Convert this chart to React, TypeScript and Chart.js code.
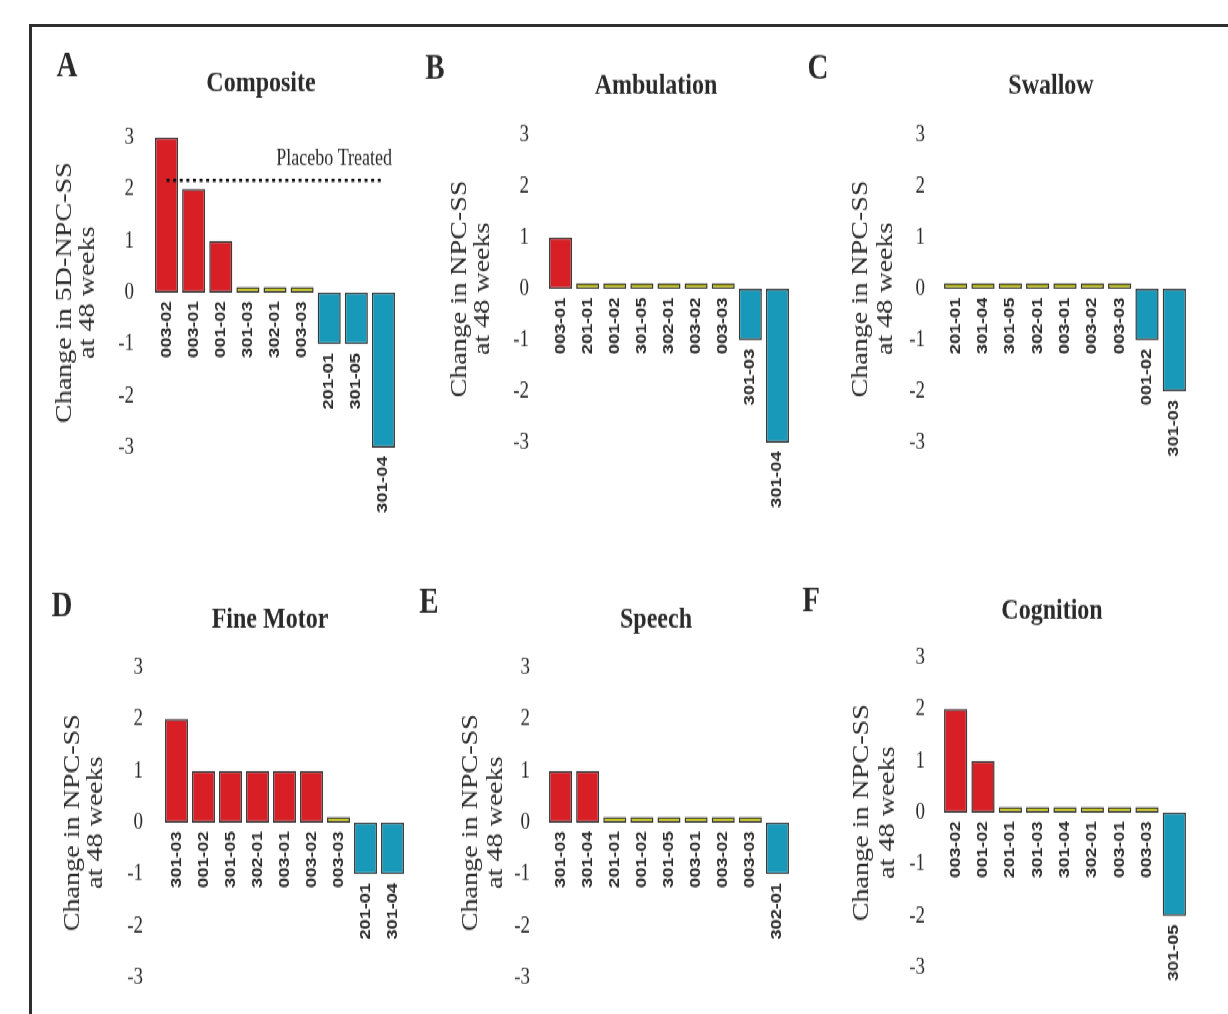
import React, { useEffect, useRef } from "react";
import { Chart, registerables } from "chart.js";

Chart.register(...registerables);

// ---------------- DATA ----------------
const compositeIds = ["003-02", "003-01", "001-02", "301-03", "302-01", "003-03", "201-01", "301-05", "301-04"];
const compositeChange = [3, 2, 1, 0, 0, 0, -1, -1, -3];
const placeboComposite = 2.17;

const ambulationIds = ["003-01", "201-01", "001-02", "301-05", "302-01", "003-02", "003-03", "301-03", "301-04"];
const ambulationChange = [1, 0, 0, 0, 0, 0, 0, -1, -3];

const swallowIds = ["201-01", "301-04", "301-05", "302-01", "003-01", "003-02", "003-03", "001-02", "301-03"];
const swallowChange = [0, 0, 0, 0, 0, 0, 0, -1, -2];

const fineMotorIds = ["301-03", "001-02", "301-05", "302-01", "003-01", "003-02", "003-03", "201-01", "301-04"];
const fineMotorChange = [2, 1, 1, 1, 1, 1, 0, -1, -1];

const speechIds = ["301-03", "301-04", "201-01", "001-02", "301-05", "003-01", "003-02", "003-03", "302-01"];
const speechChange = [1, 1, 0, 0, 0, 0, 0, 0, -1];

const cognitionIds = ["003-02", "001-02", "201-01", "301-03", "301-04", "302-01", "003-01", "003-03", "301-05"];
const cognitionChange = [2, 1, 0, 0, 0, 0, 0, 0, -2];

const yTickValues = [-3, -2, -1, 0, 1, 2, 3];
const yTickLabels = ["-3", "-2", "-1", "0", "1", "2", "3"];

const compositeAxisTitle = ["Change in 5D-NPC-SS", "at 48 weeks"];
const npcAxisTitle = ["Change in NPC-SS", "at 48 weeks"];
const placeboText = "Placebo Treated";

// ---------------- STYLE ----------------
const S = 1.25; // vertical stretch of the original figure
const ZERO_BAR = 0.11; // visible stub drawn for a zero change
const RED = "#d81f26";
const YELLOW = "#cdcd0c";
const BLUE = "#1899b9";
const EDGE = "#3a3a3a";
const TEXT = "#2a2a2a";

type Panel = {
  letter: string;
  title: string;
  ids: string[];
  values: number[];
  axisTitle: string[];
  placebo?: number;
  chartL: number;
  chartR: number;
  y3: number;
  yM3: number;
  tickRight: number;
  letterPos: [number, number];
  titlePos: [number, number];
  axisX: [number, number];
  placeboPos?: [number, number];
  padBottomV: number;
};

const panels: Panel[] = [
  {
    letter: "A", title: "Composite", ids: compositeIds, values: compositeChange, axisTitle: compositeAxisTitle,
    placebo: placeboComposite,
    chartL: 153, chartR: 397, y3: 138, yM3: 448, tickRight: 134,
    letterPos: [67, 67], titlePos: [261, 84], axisX: [65, 88], placeboPos: [392, 160], padBottomV: 80,
  },
  {
    letter: "B", title: "Ambulation", ids: ambulationIds, values: ambulationChange, axisTitle: npcAxisTitle,
    chartL: 547, chartR: 791, y3: 135, yM3: 442, tickRight: 529,
    letterPos: [435, 70], titlePos: [656, 86], axisX: [460, 483], padBottomV: 80,
  },
  {
    letter: "C", title: "Swallow", ids: swallowIds, values: swallowChange, axisTitle: npcAxisTitle,
    chartL: 942, chartR: 1188, y3: 135, yM3: 442, tickRight: 925,
    letterPos: [818, 70], titlePos: [1051, 86], axisX: [861, 886], padBottomV: 80,
  },
  {
    letter: "D", title: "Fine Motor", ids: fineMotorIds, values: fineMotorChange, axisTitle: npcAxisTitle,
    chartL: 163, chartR: 406, y3: 667, yM3: 977, tickRight: 143,
    letterPos: [62, 606], titlePos: [270, 619], axisX: [73, 96], padBottomV: 60,
  },
  {
    letter: "E", title: "Speech", ids: speechIds, values: speechChange, axisTitle: npcAxisTitle,
    chartL: 547, chartR: 791, y3: 668, yM3: 978, tickRight: 530,
    letterPos: [429, 604], titlePos: [656, 620], axisX: [471, 496], padBottomV: 60,
  },
  {
    letter: "F", title: "Cognition", ids: cognitionIds, values: cognitionChange, axisTitle: npcAxisTitle,
    chartL: 942, chartR: 1188, y3: 658, yM3: 968, tickRight: 925,
    letterPos: [811, 603], titlePos: [1052, 612], axisX: [862, 888], padBottomV: 60,
  },
];

function colorFor(v: number) {
  if (v > 0) return RED;
  if (v < 0) return BLUE;
  return YELLOW;
}

function PanelChart({ p }: { p: Panel }) {
  const ref = useRef<HTMLCanvasElement | null>(null);

  const left = p.chartL - 150;
  const width = p.chartR - left + 12;
  const topV = p.y3 - 110;
  const topU = topV / S;
  const padTop = 110 / S;
  const chartH = (p.yM3 - p.y3) / S;
  const padBottom = p.padBottomV / S;
  const height = Math.round(padTop + chartH + padBottom);

  useEffect(() => {
    if (!ref.current) return;
    const annot = {
      id: "annot" + p.letter,
      afterDatasetsDraw(chart: any) {
        const { ctx, scales } = chart;
        const xs = scales.x;
        const ys = scales.y;
        ctx.save();
        ctx.fillStyle = TEXT;
        // panel letter
        ctx.font = 'bold 29px "Liberation Serif", "Times New Roman", serif';
        ctx.textAlign = "center";
        ctx.textBaseline = "middle";
        ctx.fillText(p.letter, p.letterPos[0] - left, p.letterPos[1] / S - topU);
        // title
        ctx.font = 'bold 24px "Liberation Serif", "Times New Roman", serif';
        ctx.fillText(p.title, p.titlePos[0] - left, p.titlePos[1] / S - topU);
        // axis title (rotated)
        ctx.font = '22.5px "Liberation Serif", "Times New Roman", serif';
        const yc = ys.getPixelForValue(0);
        p.axisTitle.forEach((line, i) => {
          ctx.save();
          ctx.translate(p.axisX[i] - left, yc);
          ctx.rotate(-Math.PI / 2);
          ctx.textAlign = "center";
          ctx.textBaseline = "middle";
          ctx.fillText(line, 0, 0);
          ctx.restore();
        });
        // bar labels
        ctx.font = 'bold 14.5px "Liberation Sans", Arial, sans-serif';
        p.ids.forEach((id, i) => {
          const v = p.values[i];
          const px = xs.getPixelForValue(i);
          const py = ys.getPixelForValue(Math.min(v, 0)) + 7;
          ctx.save();
          ctx.translate(px, py);
          ctx.rotate(-Math.PI / 2);
          ctx.textAlign = "right";
          ctx.textBaseline = "middle";
          ctx.fillText(id, 0, 0);
          ctx.restore();
        });
        // placebo label
        if (p.placebo !== undefined && p.placeboPos) {
          ctx.font = '18px "Liberation Serif", "Times New Roman", serif';
          ctx.textAlign = "right";
          ctx.textBaseline = "middle";
          ctx.fillText(placeboText, p.placeboPos[0] - left, p.placeboPos[1] / S - topU);
        }
        ctx.restore();
      },
    };

    const datasets: any[] = [
      {
        type: "bar",
        data: p.values.map((v) => (v === 0 ? [0, ZERO_BAR] : v)),
        backgroundColor: p.values.map(colorFor),
        borderColor: EDGE,
        borderWidth: 1.5,
        borderSkipped: false,
        barPercentage: 0.85,
        categoryPercentage: 1.0,
        order: 1,
      },
    ];
    if (p.placebo !== undefined) {
      datasets.push({
        type: "line",
        data: p.ids.map(() => p.placebo),
        borderColor: "#111",
        borderWidth: 2.6,
        borderDash: [3, 3.6],
        pointRadius: 0,
        fill: false,
        order: 0,
      });
    }

    const chart = new Chart(ref.current, {
      type: "bar",
      data: { labels: p.ids, datasets },
      options: {
        responsive: false,
        maintainAspectRatio: false,
        devicePixelRatio: 1,
        animation: false,
        events: [],
        layout: {
          padding: { left: 0, top: padTop, bottom: padBottom, right: width - (p.chartR - left) },
        },
        plugins: { legend: { display: false }, tooltip: { enabled: false }, title: { display: false } },
        scales: {
          x: { display: false, offset: true },
          y: {
            min: -3,
            max: 3,
            afterFit: (s: any) => {
              s.width = p.chartL - left;
            },
            border: { display: false },
            grid: { display: false, drawTicks: false },
            ticks: {
              stepSize: 1,
              padding: p.chartL - p.tickRight,
              color: TEXT,
              font: { family: '"Liberation Serif", "Times New Roman", serif', size: 19 },
              callback: (v: any) => {
                const k = yTickValues.indexOf(Number(v));
                return k >= 0 ? yTickLabels[k] : "";
              },
            },
          },
        },
      } as any,
      plugins: [annot],
    });
    return () => chart.destroy();
  }, []);

  return (
    <canvas
      ref={ref}
      width={width}
      height={height}
      style={{ position: "absolute", left, top: topU, width, height }}
    />
  );
}

export default function App() {
  return (
    <div
      style={{
        position: "fixed",
        left: 0,
        top: 0,
        width: 1228,
        height: 1014,
        overflow: "hidden",
        background: "#ffffff",
      }}
    >
      <div
        style={{
          position: "absolute",
          left: 29,
          top: 24,
          width: 1320,
          height: 1120,
          border: "3px solid #2e2e2e",
          boxSizing: "border-box",
        }}
      />
      <div
        style={{
          position: "absolute",
          left: 0,
          top: 0,
          width: 1228,
          height: 1014 / S,
          transform: `scaleY(${S})`,
          transformOrigin: "0 0",
        }}
      >
        {panels.map((p) => (
          <PanelChart key={p.letter} p={p} />
        ))}
      </div>
    </div>
  );
}
